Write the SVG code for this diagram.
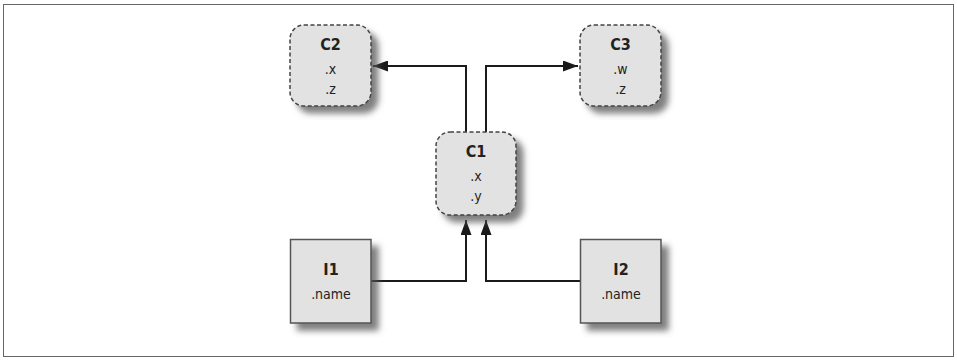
<svg xmlns="http://www.w3.org/2000/svg" width="957" height="360" viewBox="0 0 957 360">
<defs>
<filter id="sh" x="-20%" y="-20%" width="150%" height="150%">
<feDropShadow dx="7" dy="7" stdDeviation="3" flood-color="#555" flood-opacity="0.75"/>
</filter>
<marker id="ah" viewBox="0 0 15 11" refX="15" refY="5.5" markerWidth="15" markerHeight="11" markerUnits="userSpaceOnUse" orient="auto">
<path d="M0,0 L15,5.5 L0,11 z" fill="#1a1a1a"/>
</marker>
<style>
.cls{fill:#e2e2e2;stroke:#444;stroke-width:1.5;stroke-dasharray:4 2.5;filter:url(#sh)}
.inst{fill:#e2e2e2;stroke:#555;stroke-width:1.5;filter:url(#sh)}
.t{font-family:"DejaVu Sans Condensed","Liberation Sans",sans-serif;font-size:16px;font-weight:bold;fill:#222;text-anchor:middle}
.a{font-family:"DejaVu Sans Condensed","Liberation Sans",sans-serif;font-size:14px;fill:#222;text-anchor:middle}
.c{fill:none;stroke:#1a1a1a;stroke-width:2;marker-end:url(#ah)}
</style>
</defs>
<rect x="3.5" y="4.5" width="950" height="352" fill="#fff" stroke="#666" stroke-width="1"/>
<g id="connectors">
<path class="c" d="M466,132 V66 H373"/>
<path class="c" d="M486,132 V66 H578"/>
<path class="c" d="M371,281 H466 V220"/>
<path class="c" d="M580,281 H486 V220"/>
</g>
<g id="C2">
<rect class="cls" x="290" y="25" width="81" height="81" rx="14"/>
<text class="t" x="330.5" y="50">C2</text>
<text class="a" x="330.5" y="74">.x</text>
<text class="a" x="330.5" y="94">.z</text>
</g>
<g id="C3">
<rect class="cls" x="580" y="25" width="81" height="81" rx="14"/>
<text class="t" x="620.5" y="50">C3</text>
<text class="a" x="620.5" y="74">.w</text>
<text class="a" x="620.5" y="94">.z</text>
</g>
<g id="C1">
<rect class="cls" x="436" y="132" width="80" height="83" rx="14"/>
<text class="t" x="476" y="157">C1</text>
<text class="a" x="476" y="181">.x</text>
<text class="a" x="476" y="201">.y</text>
</g>
<g id="I1">
<rect class="inst" x="290.5" y="239.5" width="80.5" height="83.5"/>
<text class="t" x="331" y="275">I1</text>
<text class="a" x="331" y="299">.name</text>
</g>
<g id="I2">
<rect class="inst" x="580.5" y="239.5" width="80.5" height="83.5"/>
<text class="t" x="621" y="275">I2</text>
<text class="a" x="621" y="299">.name</text>
</g>
</svg>
